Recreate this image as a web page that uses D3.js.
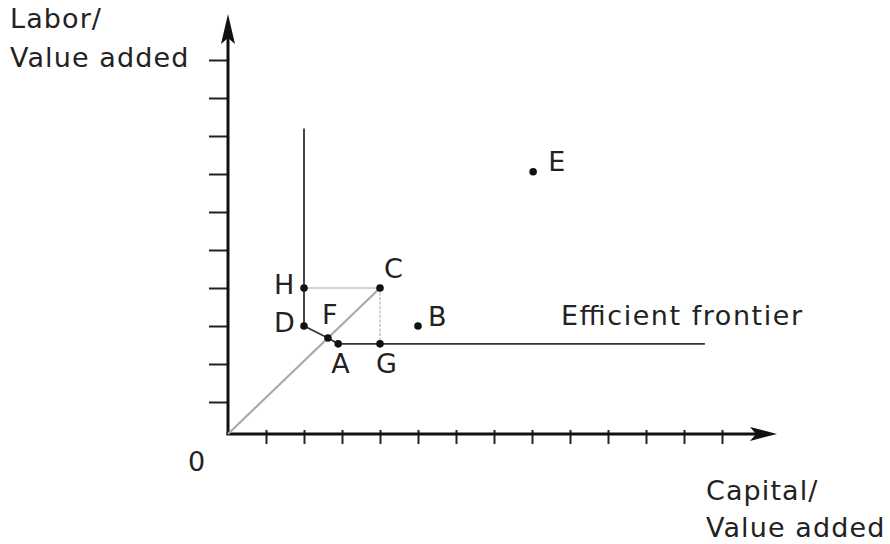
<!DOCTYPE html>
<html>
<head>
<meta charset="utf-8">
<script src="https://cdn.jsdelivr.net/npm/d3@7"></script>
<style>
  html, body { margin: 0; padding: 0; background: #fff; }
  svg { display: block; }
  text { font-family: "DejaVu Sans", Verdana, sans-serif; fill: #222; }
</style>
</head>
<body>
<svg id="chart" width="890" height="544"></svg>
<script>
// Input ratios of the decision-making units
const pointNames = ["A", "B", "C", "D", "E", "F", "G", "H"];
const pointX = [2.9, 5, 4, 2, 8.03, 2.63, 4, 2];
const pointY = [2.53, 3, 4, 3, 7.06, 2.685, 2.53, 4];

// Piecewise-linear efficient frontier (vertical arm, D-F-A facet, horizontal arm)
const frontierX = [2, 2, 2.63, 2.9, 12.55];
const frontierY = [8.2, 3, 2.685, 2.53, 2.53];

// Ray from the origin through C, and the projections of C
const rayX = [0, 4];
const rayY = [0.16, 4];
const hcX = [2, 4];
const hcY = [4, 4];
const cgX = [4, 4];
const cgY = [4, 2.53];

const xTicks = [1, 2, 3, 4, 5, 6, 7, 8, 9, 10, 11, 12, 13];
const yTicks = [1, 2, 3, 4, 5, 6, 7, 8, 9, 10];
const axisBaseY = 0.16;

const svg = d3.select("#chart");

const x = d3.scaleLinear().domain([0, 14.5]).range([228, 779]);
const y = d3.scaleLinear().domain([0, 10]).range([440, 60]);

const x0 = x(0), y0 = y(axisBaseY);

// Axis tick marks
const xAxis = d3.axisBottom(x).tickValues(xTicks).tickSize(14).tickFormat("");
const xg = svg.append("g").attr("transform", `translate(0,${y0 - 4})`).call(xAxis);
xg.select(".domain").remove();
xg.selectAll(".tick line").attr("stroke", "#222").attr("stroke-width", 2);

const yAxis = d3.axisLeft(y).tickValues(yTicks).tickSize(19).tickFormat("");
const yg = svg.append("g").attr("transform", `translate(${x0},0)`).call(yAxis);
yg.select(".domain").remove();
yg.selectAll(".tick line").attr("stroke", "#222").attr("stroke-width", 2);

// Axis lines with arrowheads
svg.append("line").attr("x1", x0).attr("y1", y0 + 1).attr("x2", x0).attr("y2", 30)
  .attr("stroke", "#111").attr("stroke-width", 3);
svg.append("path").attr("d", `M${x0},14 L${x0 - 7},44 L${x0},38 L${x0 + 7},44 Z`).attr("fill", "#111");

svg.append("line").attr("x1", x0 - 1.5).attr("y1", y0).attr("x2", 762).attr("y2", y0)
  .attr("stroke", "#111").attr("stroke-width", 3);
svg.append("path").attr("d", `M777,${y0} L750,${y0 - 7} L756,${y0} L750,${y0 + 7} Z`).attr("fill", "#111");

const line = d3.line().x(d => x(d[0])).y(d => y(d[1]));
const zipXY = (xs, ys) => xs.map((v, i) => [v, ys[i]]);

// Grey construction lines
svg.append("path").attr("d", line(zipXY(rayX, rayY)))
  .attr("fill", "none").attr("stroke", "#aaa").attr("stroke-width", 2.2);
svg.append("path").attr("d", line(zipXY(hcX, hcY)))
  .attr("fill", "none").attr("stroke", "#c4c4c4").attr("stroke-width", 1.5);
svg.append("path").attr("d", line(zipXY(cgX, cgY)))
  .attr("fill", "none").attr("stroke", "#c4c4c4").attr("stroke-width", 1.5)
  .attr("stroke-dasharray", "3,1.5");

// Efficient frontier
svg.append("path").attr("d", line(zipXY(frontierX, frontierY)))
  .attr("fill", "none").attr("stroke", "#333").attr("stroke-width", 1.8);

// Points
svg.selectAll("circle.pt").data(pointNames).join("circle")
  .attr("class", "pt")
  .attr("cx", (d, i) => x(pointX[i]))
  .attr("cy", (d, i) => y(pointY[i]))
  .attr("r", 3.8)
  .attr("fill", "#111");

// Point labels, offset from their points
const labelOffset = {
  A: [-7, 29], B: [10, 0], C: [4, -10], D: [-30, 6],
  E: [15, -1], F: [-6, -14], G: [-4, 29], H: [-30, 6]
};
svg.selectAll("text.lbl").data(pointNames).join("text")
  .attr("class", "lbl")
  .attr("x", (d, i) => x(pointX[i]) + labelOffset[d][0])
  .attr("y", (d, i) => y(pointY[i]) + labelOffset[d][1])
  .attr("font-size", 27)
  .text(d => d);

svg.append("text").attr("x", 561).attr("y", 325).attr("font-size", 27)
  .attr("textLength", 241).attr("lengthAdjust", "spacing")
  .text("Efficient frontier");

// Axis titles and origin
const titleStyle = t => t.attr("font-size", 27).attr("letter-spacing", 1.1);
svg.append("text").attr("x", 188).attr("y", 471).attr("font-size", 27).text("0");
svg.append("text").attr("x", 10).attr("y", 28).call(titleStyle).text("Labor/");
svg.append("text").attr("x", 10).attr("y", 67).call(titleStyle).text("Value added");
svg.append("text").attr("x", 706).attr("y", 500).call(titleStyle).text("Capital/");
svg.append("text").attr("x", 706).attr("y", 537).call(titleStyle).text("Value added");
</script>
</body>
</html>
